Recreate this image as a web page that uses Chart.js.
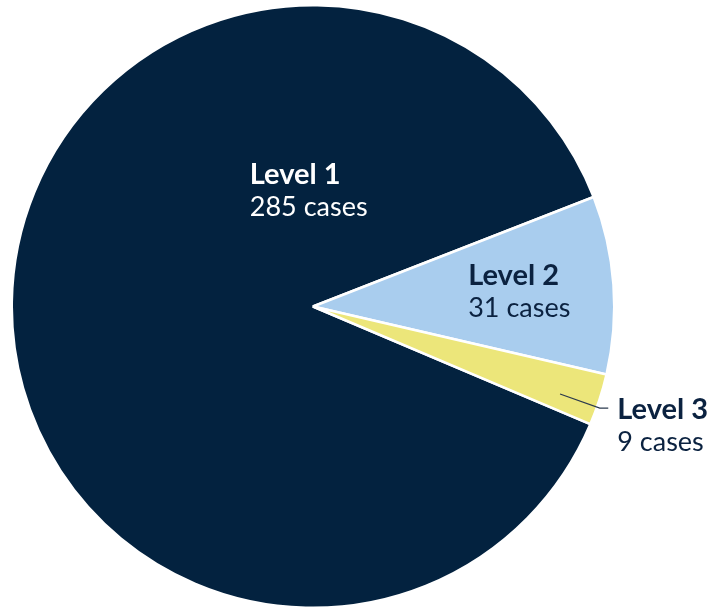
<!DOCTYPE html>
<html>
<head>
<meta charset="utf-8">
<script src="https://cdn.jsdelivr.net/npm/chart.js@4"></script>
<style>
  html, body { margin: 0; padding: 0; background: #fff; }
  #wrap { width: 715px; height: 609px; }
</style>
</head>
<body>
<div id="wrap"><canvas id="chart"></canvas></div>
<script>
const levels = ['Level 1', 'Level 2', 'Level 3'];
const cases = [285, 31, 9];
const colori = ['#03223f', '#a9cdee', '#ece67a'];
const testoColori = ['#ffffff', '#0b2240', '#0b2240'];

// posizione delle etichette in frazioni del raggio (rispetto al centro)
const posEtichette = [
    { dx: -0.21, dy: -0.405 },
    { dx: 0.515, dy: -0.07 },
    { dx: 1.01, dy: 0.375 }
];

const etichette = {
    id: 'etichette',
    afterDatasetsDraw(chart) {
        const c = chart.ctx;
        const arcs = chart.getDatasetMeta(0).data;
        c.save();
        arcs.forEach((arc, i) => {
            const r = arc.outerRadius;
            const x = arc.x + posEtichette[i].dx * r;
            const y = arc.y + posEtichette[i].dy * r;
            c.fillStyle = testoColori[i];
            c.textAlign = 'left';
            c.textBaseline = 'alphabetic';
            c.font = 'bold 29px Lato';
            c.fillText(levels[i], x, y);
            c.font = '27px Lato';
            c.fillText(cases[i] + ' cases', x, y + 32);

            if (i === 2) { // linea guida per la fetta piccola
                const a = (arc.startAngle + arc.endAngle) / 2 + 1.5 * Math.PI / 180;
                const x1 = arc.x + Math.cos(a) * r * 0.87;
                const y1 = arc.y + Math.sin(a) * r * 0.87;
                const x2 = arc.x + Math.cos(a) * r * 1.01;
                const y2 = arc.y + Math.sin(a) * r * 1.01;
                c.strokeStyle = '#2b3a4e';
                c.lineWidth = 1.2;
                c.beginPath();
                c.moveTo(x1, y1);
                c.lineTo(x2, y2);
                c.lineTo(x - 9, y2);
                c.stroke();
            }
        });
        c.restore();
    }
};

new Chart(document.querySelector('#chart'), {
    type: 'pie',
    data: {
        labels: levels,
        datasets: [{
            data: cases,
            backgroundColor: colori,
            borderColor: '#ffffff',
            borderWidth: 2.5
        }]
    },
    options: {
        responsive: true,
        maintainAspectRatio: false,
        animation: false,
        rotation: 113,
        layout: { padding: { left: 10, right: 99, top: 4, bottom: 0 } },
        plugins: {
            legend: { display: false },
            tooltip: { enabled: false }
        }
    },
    plugins: [etichette]
});
</script>
</body>
</html>
